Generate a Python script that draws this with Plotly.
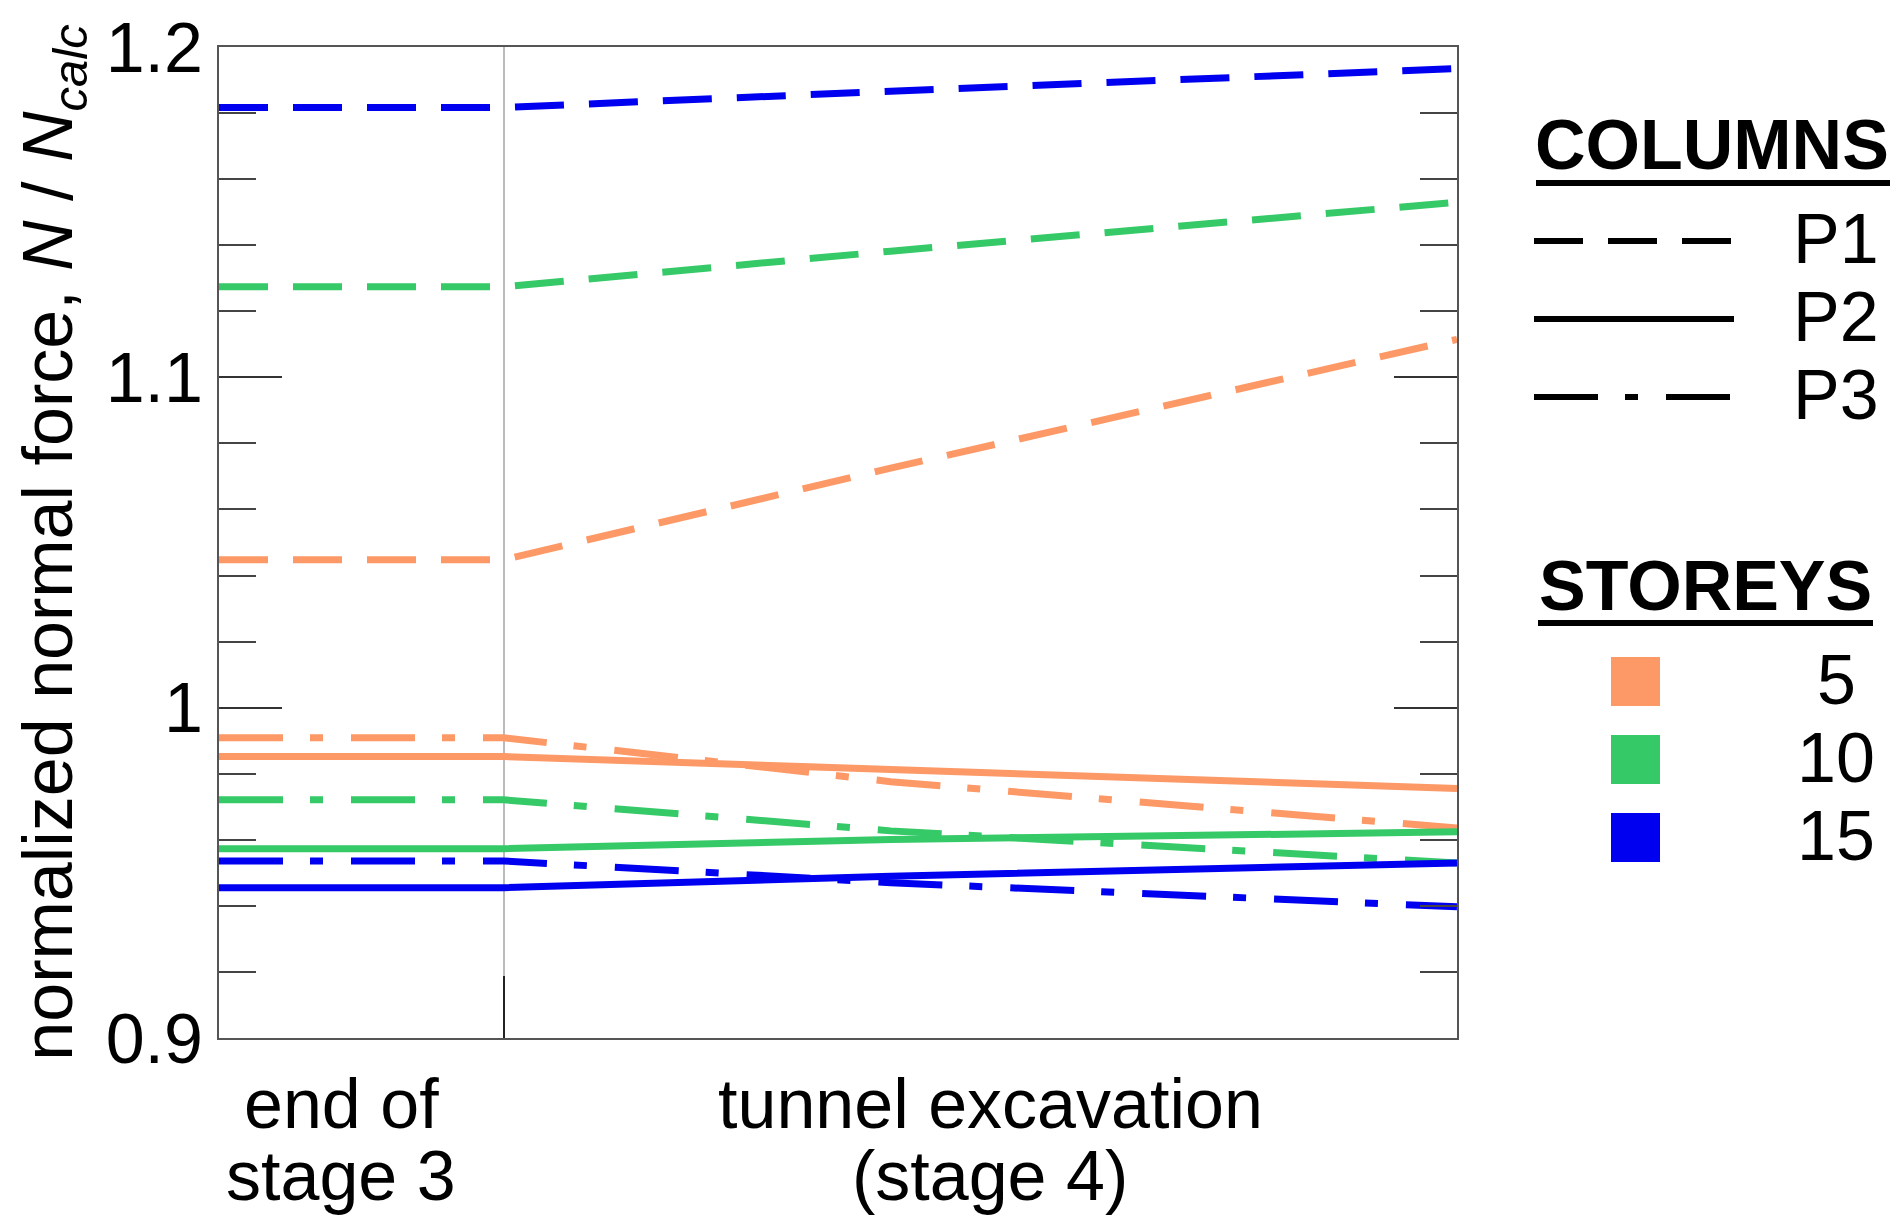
import plotly.graph_objects as go

# ---------------- data ----------------
stage_x = [0.0, 1.0, 2.36, 4.35]          # 0 = start, 1 = end of stage 3, 4.35 = end of tunnel excavation
storeys = ["5", "10", "15"]
storey_colors = ["#FC9966", "#36C968", "#0000F0"]
columns = ["P1", "P2", "P3"]

p1_5 = [1.0448, 1.0448, 1.0725, 1.1115]
p2_5 = [0.9852, 0.9852, 0.9813, 0.9755]
p3_5 = [0.9909, 0.9909, 0.9776, 0.9636]

p1_10 = [1.1274, 1.1274, 1.1382, 1.1530]
p2_10 = [0.9573, 0.9573, 0.9601, 0.9624]
p3_10 = [0.9721, 0.9721, 0.9627, 0.9530]

p1_15 = [1.1817, 1.1817, 1.1866, 1.1935]
p2_15 = [0.9455, 0.9455, 0.9490, 0.9530]
p3_15 = [0.9536, 0.9536, 0.9470, 0.9397]

y_tickvals = [0.9, 1.0, 1.1, 1.2]
y_ticktext = ["0.9", "1", "1.1", "1.2"]
x_labels = [("end of", "stage 3", 0.43), ("tunnel excavation", "(stage 4)", 2.71)]

# ---------------- styling ----------------
W, H = 1898, 1217
L, R, T, B = 211, 1449, 39, 1030
FONT = "Liberation Sans, Arial, sans-serif"
FS = 70
dash_styles = {"P1": "49px,25px", "P2": "solid", "P3": "64px,27px,13px,28px"}

series = {
    ("5", "P1"): p1_5, ("5", "P2"): p2_5, ("5", "P3"): p3_5,
    ("10", "P1"): p1_10, ("10", "P2"): p2_10, ("10", "P3"): p3_10,
    ("15", "P1"): p1_15, ("15", "P2"): p2_15, ("15", "P3"): p3_15,
}

fig = go.Figure()
for s, col in zip(storeys, storey_colors):
    for c in columns:
        fig.add_trace(go.Scatter(
            x=stage_x, y=series[(s, c)], mode="lines",
            line=dict(color=col, width=7, dash=dash_styles[c]),
            showlegend=False, name=f"{c} - {s} storeys"))

def px(x):
    return (x - L) / (R - L)

def py(y):
    return (B - y) / (B - T)

shapes = []
annotations = []

# x-axis category labels
for l1, l2, xv in x_labels:
    annotations.append(dict(x=xv, y=py(1096), xref="x", yref="paper", text=l1, showarrow=False,
                            font=dict(family=FONT, size=FS, color="black"), xanchor="center", yanchor="middle"))
    annotations.append(dict(x=xv, y=py(1168), xref="x", yref="paper", text=l2, showarrow=False,
                            font=dict(family=FONT, size=FS, color="black"), xanchor="center", yanchor="middle"))

# legend: COLUMNS
annotations.append(dict(x=px(1704), y=py(137), xref="paper", yref="paper", text="<b>COLUMNS</b>",
                        showarrow=False, font=dict(family=FONT, size=FS, color="black"),
                        xanchor="center", yanchor="middle"))
shapes.append(dict(type="line", xref="paper", yref="paper", x0=px(1528), x1=px(1882), y0=py(175), y1=py(175),
                   line=dict(color="black", width=6)))
for i, c in enumerate(columns):
    yy = 233 + i * 78
    shapes.append(dict(type="line", xref="paper", yref="paper", x0=px(1526), x1=px(1726), y0=py(yy), y1=py(yy),
                       line=dict(color="black", width=6, dash=dash_styles[c])))
    annotations.append(dict(x=px(1828), y=py(yy - 2), xref="paper", yref="paper", text=c, showarrow=False,
                            font=dict(family=FONT, size=FS, color="black"), xanchor="center", yanchor="middle"))

# legend: STOREYS
annotations.append(dict(x=px(1697), y=py(578), xref="paper", yref="paper", text="<b>STOREYS</b>",
                        showarrow=False, font=dict(family=FONT, size=FS, color="black"),
                        xanchor="center", yanchor="middle"))
shapes.append(dict(type="line", xref="paper", yref="paper", x0=px(1530), x1=px(1865), y0=py(615), y1=py(615),
                   line=dict(color="black", width=6)))
for i, (s, col) in enumerate(zip(storeys, storey_colors)):
    y0 = 649 + i * 78
    shapes.append(dict(type="rect", xref="paper", yref="paper", x0=px(1603), x1=px(1652), y0=py(y0), y1=py(y0 + 49),
                       fillcolor=col, line=dict(width=0)))
    annotations.append(dict(x=px(1828), y=py(y0 + 23), xref="paper", yref="paper", text=s, showarrow=False,
                            font=dict(family=FONT, size=FS, color="black"), xanchor="center", yanchor="middle"))

fig.update_layout(
    width=W, height=H,
    margin=dict(l=L, r=W - R, t=T, b=H - B, autoexpand=False),
    paper_bgcolor="white", plot_bgcolor="white",
    font=dict(family=FONT, color="black"),
    shapes=shapes, annotations=annotations,
    showlegend=False,
)
fig.update_xaxes(
    range=[0, 4.35], showline=True, linecolor="#555555", linewidth=2, mirror=True,
    tickvals=[1.0], showticklabels=False, ticks="inside", ticklen=62, tickwidth=1.5, tickcolor="#222222",
    showgrid=True, gridcolor="#BBBBBB", gridwidth=1.5, zeroline=False,
)
fig.update_yaxes(
    range=[0.9, 1.2], showline=True, linecolor="#555555", linewidth=2, mirror="ticks",
    tickvals=y_tickvals, ticktext=y_ticktext, ticks="inside", ticklen=63, tickwidth=1.5, tickcolor="#333333",
    tickfont=dict(family=FONT, size=FS, color="black"),
    minor=dict(dtick=0.02, tick0=0.9, ticks="inside", ticklen=37, tickwidth=1.5, tickcolor="#444444", showgrid=False),
    showgrid=False, zeroline=False,
    title=dict(text="normalized normal force, <i>N</i> / <i>N</i><sub><i>calc</i></sub>",
               font=dict(family=FONT, size=FS, color="black"), standoff=10),
    automargin=False,
)

fig.write_html("out.html")
